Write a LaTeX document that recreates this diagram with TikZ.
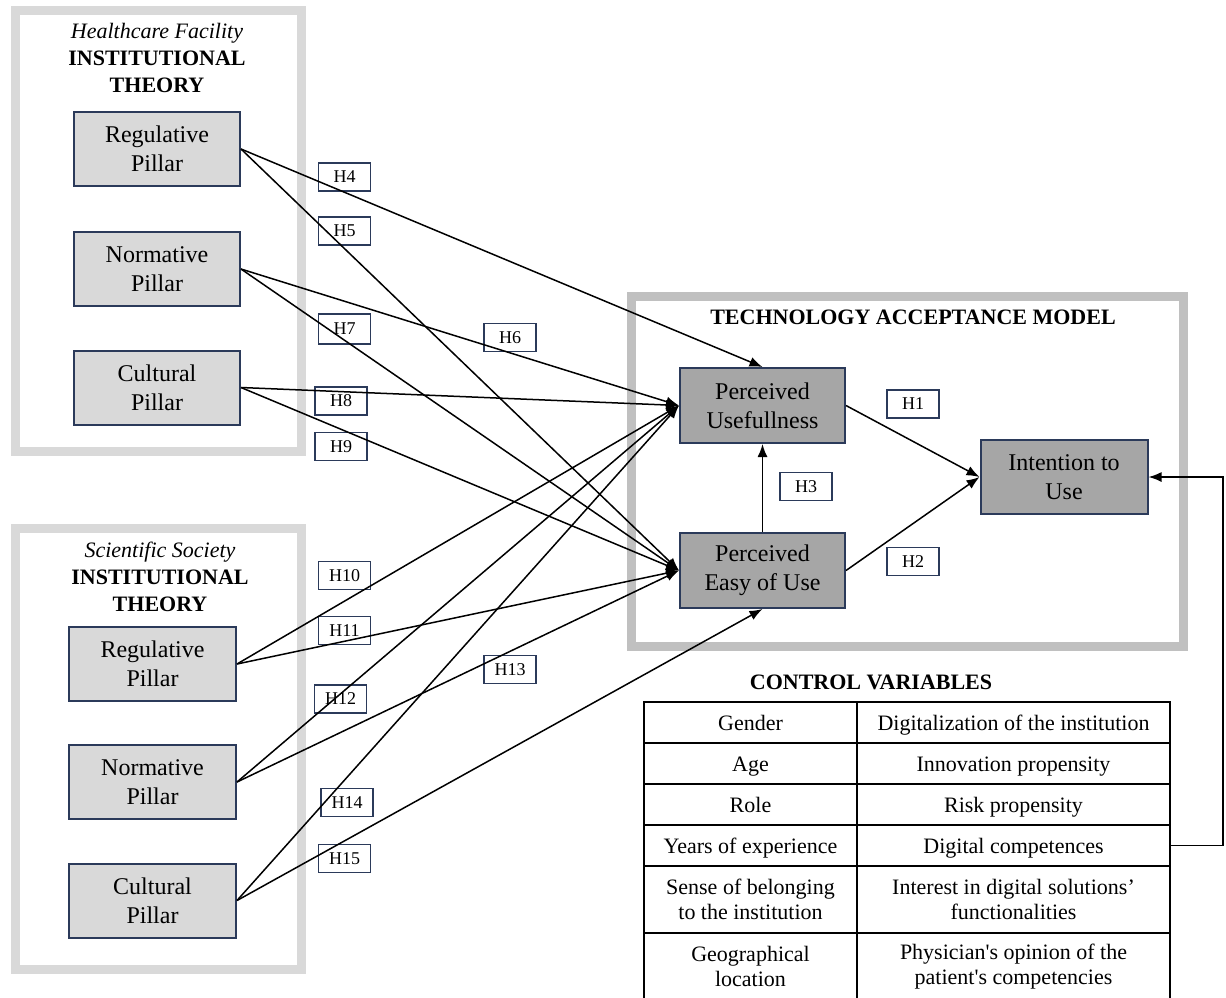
\documentclass[tikz,border=0pt]{standalone}
\usepackage{fontspec}
\setmainfont{Liberation Serif}
\usetikzlibrary{arrows.meta}
\definecolor{navyb}{HTML}{2B3A5A}
\definecolor{lightfill}{HTML}{D9D9D9}
\definecolor{midfill}{HTML}{A6A6A6}
\definecolor{framelight}{HTML}{D9D9D9}
\definecolor{framemid}{HTML}{C0C0C0}
\begin{document}
\begin{tikzpicture}[x=1pt,y=-1pt,
  frameL/.style={draw=framelight,line width=9pt},
  frameT/.style={draw=framemid,line width=9pt},
  pillar/.style={draw=navyb,line width=2pt,fill=lightfill,minimum width=166pt,minimum height=74pt,inner sep=0pt,align=center,font=\fontsize{24}{29}\selectfont},
  tam/.style={draw=navyb,line width=2pt,fill=midfill,minimum width=165pt,minimum height=75pt,inner sep=0pt,align=center,font=\fontsize{24}{29}\selectfont},
  hbox/.style={draw=navyb,line width=1.8pt,minimum width=52pt,minimum height=28pt,inner sep=0pt,font=\fontsize{18}{20}\selectfont},
  hdr/.style={inner sep=0pt,anchor=base,font=\fontsize{22}{26}\selectfont\bfseries},
  hdri/.style={inner sep=0pt,anchor=base,font=\fontsize{22}{26}\selectfont\itshape},
  cellA/.style={draw=black,line width=1.8pt,minimum width=213pt,inner sep=0pt,align=center,font=\fontsize{22}{25}\selectfont},
  cellB/.style={draw=black,line width=1.8pt,minimum width=313pt,inner sep=0pt,align=center,font=\fontsize{22}{25}\selectfont},
  onerow/.style={minimum height=41pt,text height=18pt,text depth=2pt},
  tworow/.style={minimum height=67pt},
  conn/.style={draw=black,line width=1.5pt,-{Latex[length=13pt,width=10pt]}}
]
\useasboundingbox (0,0) rectangle (1226,997);

% frames
\draw[frameL] (15.5,10.5) rectangle (301,451.5);
\draw[frameL] (15.5,528.5) rectangle (301,969.5);
\draw[frameT] (631.5,296) rectangle (1183,646);

% headers
\node[hdri] (hf) at (157,38) {Healthcare Facility};
\node[hdr] (it1) at (157,65) {INSTITUTIONAL};
\node[hdr] (th1) at (157,92) {THEORY};
\node[hdri] (ss) at (160,557) {Scientific Society};
\node[hdr] (it2) at (160,584) {INSTITUTIONAL};
\node[hdr] (th2) at (160,611) {THEORY};
\node[hdr] (tamt) at (913,324) {TECHNOLOGY ACCEPTANCE MODEL};
\node[hdr] (cvt) at (871,689) {CONTROL VARIABLES};

% pillars
\node[pillar] (RP1) at (157,149) {Regulative\\Pillar};
\node[pillar] (NP1) at (157,269) {Normative\\Pillar};
\node[pillar] (CP1) at (157,387.5) {Cultural\\Pillar};
\node[pillar,minimum width=167pt] (RP2) at (152.5,664) {Regulative\\Pillar};
\node[pillar,minimum width=167pt] (NP2) at (152.5,782) {Normative\\Pillar};
\node[pillar,minimum width=167pt] (CP2) at (152.5,900.5) {Cultural\\Pillar};

% TAM boxes
\node[tam] (PU) at (762.5,405.5) {Perceived\\Usefullness};
\node[tam] (PEU) at (762.5,570.5) {Perceived\\Easy of Use};
\node[tam,minimum width=167pt,minimum height=74pt] (ITU) at (1064,477) {Intention to\\Use};

% hypothesis labels
\node[hbox] (H4) at (344.5,177) {H4};
\node[hbox] (H5) at (344.5,231) {H5};
\node[hbox,minimum height=30pt] (H7) at (344.5,329) {H7};
\node[hbox] (H6) at (510,337.5) {H6};
\node[hbox] (H8) at (341,401) {H8};
\node[hbox] (H9) at (341,446.5) {H9};
\node[hbox] (H10) at (344.5,575.5) {H10};
\node[hbox] (H11) at (344.5,630.5) {H11};
\node[hbox] (H12) at (340.5,699) {H12};
\node[hbox] (H13) at (510,669.5) {H13};
\node[hbox] (H14) at (347,802.5) {H14};
\node[hbox] (H15) at (344.5,858.5) {H15};
\node[hbox] (H1) at (913,404) {H1};
\node[hbox] (H3) at (806,486.5) {H3};
\node[hbox] (H2) at (913,561.5) {H2};

% connectors
\draw[conn] (RP1.east) -- (PU.north);
\draw[conn] (RP1.east) -- (PEU.west);
\draw[conn] (NP1.east) -- (PU.west);
\draw[conn] (NP1.east) -- (PEU.west);
\draw[conn] (CP1.east) -- (PU.west);
\draw[conn] (CP1.east) -- (PEU.west);
\draw[conn] (RP2.east) -- (PU.west);
\draw[conn] (RP2.east) -- (PEU.west);
\draw[conn] (NP2.east) -- (PU.west);
\draw[conn] (NP2.east) -- (PEU.west);
\draw[conn] (CP2.east) -- (PU.west);
\draw[conn] (CP2.east) -- (PEU.south);
\draw[conn] (PU.east) -- (ITU.west);
\draw[conn] (PEU.east) -- (ITU.west);
\draw[conn] (PEU.north) -- (PU.south);

% control variables table
\node[cellA,onerow] (a1) at (750.5,722.5) {Gender};
\node[cellB,onerow] (b1) at (1013.5,722.5) {Digitalization of the institution};
\node[cellA,onerow] (a2) at (750.5,763.5) {Age};
\node[cellB,onerow] (b2) at (1013.5,763.5) {Innovation propensity};
\node[cellA,onerow] (a3) at (750.5,804.5) {Role};
\node[cellB,onerow] (b3) at (1013.5,804.5) {Risk propensity};
\node[cellA,onerow] (a4) at (750.5,845.5) {Years of experience};
\node[cellB,onerow] (b4) at (1013.5,845.5) {Digital competences};
\node[cellA,tworow] (a5) at (750.5,899.5) {Sense of belonging\\to the institution};
\node[cellB,tworow] (b5) at (1013.5,899.5) {Interest in digital solutions’\\functionalities};
\node[cellA,tworow] (a6) at (750.5,966.5) {Geographical\\location};
\node[cellB,tworow] (b6) at (1013.5,966.5) {Physician\textquotesingle s opinion of the\\patient\textquotesingle s competencies};

% feedback connector
\coordinate (fb1) at (1223,845.5);
\coordinate (fb2) at (1223,477);
\draw[conn] (b4.east) -- (fb1) -- (fb2) -- (ITU.east);
\end{tikzpicture}
\end{document}
